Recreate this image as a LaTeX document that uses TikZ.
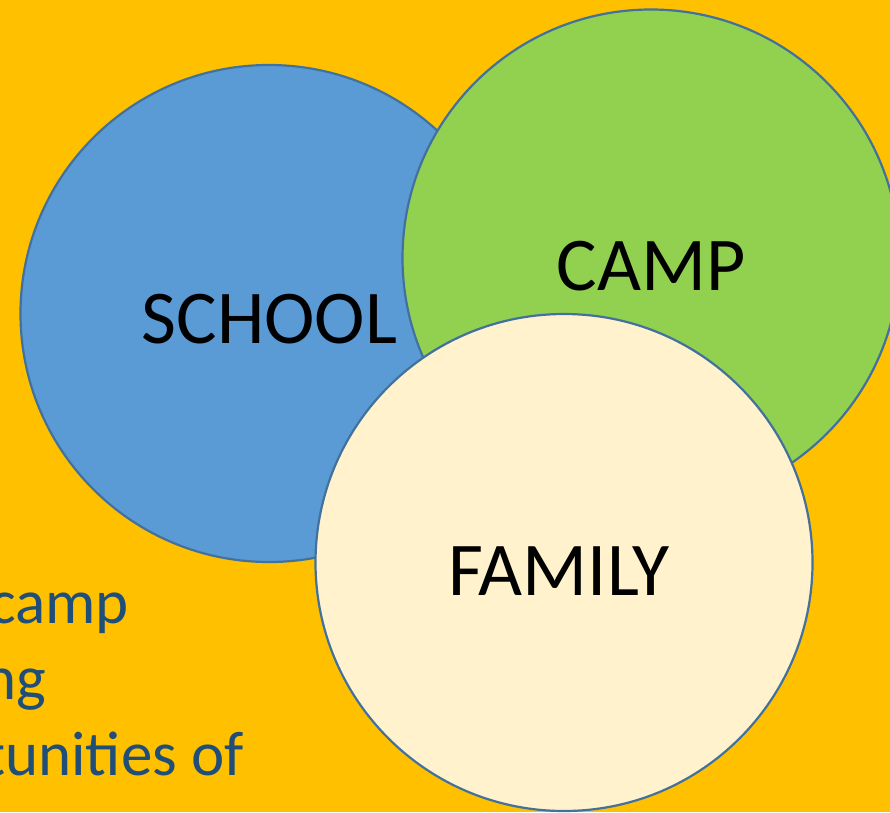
\documentclass[tikz,border=0pt]{standalone}
\usepackage{fontspec}
\setmainfont{Carlito}
\definecolor{bgorange}{HTML}{FFC000}
\definecolor{schoolblue}{HTML}{5B9BD5}
\definecolor{campgreen}{HTML}{92D050}
\definecolor{familycream}{HTML}{FFF2CC}
\definecolor{rimblue}{HTML}{41719C}
\definecolor{textblue}{HTML}{1F4E79}
\tikzset{
  ring/.style={circle, draw=rimblue, line width=2.2pt, minimum size=497pt, inner sep=0pt, outer sep=0pt},
  bigword/.style={font=\fontsize{76}{90}\selectfont, text=black, inner sep=0pt, anchor=base},
  bodyline/.style={font=\fontsize{63}{76}\selectfont, text=textblue, inner sep=0pt, anchor=base east}
}
\begin{document}
\begin{tikzpicture}[x=1pt,y=-1pt]
  \useasboundingbox (0,0) rectangle (890,812);
  \clip (0,0) rectangle (890,812);
  \fill[bgorange] (0,0) rectangle (890,812);

  % body text running behind the circles
  \node[bodyline] (l1) at (129,623) {camp};
  \node[bodyline] (l2) at (46,699) {ng};
  \node[bodyline] (l3) at (244,775) {tunities of};

  % the three overlapping circles
  \node[ring, fill=schoolblue] (school) at (269,313.5) {};
  \node[ring, fill=campgreen] (camp) at (651,258) {};
  \node[ring, fill=familycream] (family) at (564,562.5) {};

  % circle labels
  \node[bigword] (schooltext) at (269.5,343) {SCHOOL};
  \node[bigword] (camptext) at (651,290) {CAMP};
  \node[bigword] (familytext) at (559,595) {FAMILY};
\end{tikzpicture}
\end{document}
